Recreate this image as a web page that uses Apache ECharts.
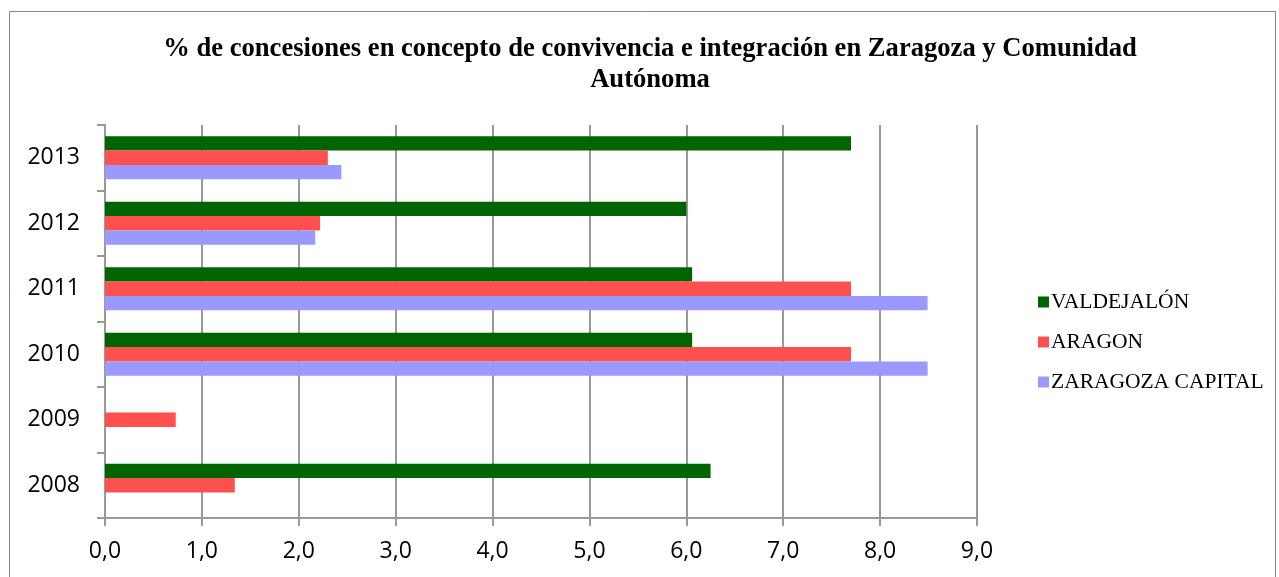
<!DOCTYPE html>
<html>
<head>
<meta charset="utf-8">
<script src="https://cdn.jsdelivr.net/npm/echarts@6/dist/echarts.min.js"></script>
<style>
  html, body { margin: 0; padding: 0; background: #fff; }
  #chart { width: 1279px; height: 577px; }
</style>
</head>
<body>
<div id="chart"></div>
<script>
const years = ['2008', '2009', '2010', '2011', '2012', '2013'];
const valdejalon = [6.25, 0, 6.06, 6.06, 6.0, 7.7];
const aragon = [1.34, 0.73, 7.7, 7.7, 2.22, 2.3];
const zaragozaCapital = [0, 0, 8.49, 8.49, 2.17, 2.44];
const xTicks = ['0,0', '1,0', '2,0', '3,0', '4,0', '5,0', '6,0', '7,0', '8,0', '9,0'];

const myChart = echarts.init(document.getElementById('chart'));
const option = {
  animation: false,
  color: ['#006400', '#ff5050', '#9999ff'],
  title: {
    text: '% de concesiones en concepto de convivencia e integración en Zaragoza y Comunidad\nAutónoma',
    left: 645,
    top: 29,
    textAlign: 'center',
    textStyle: {
      fontFamily: 'Liberation Serif',
      fontWeight: 'bold',
      fontSize: 26.6,
      lineHeight: 31,
      color: '#000'
    }
  },
  graphic: [{
    type: 'rect',
    shape: { x: 9.5, y: 11.5, width: 1266, height: 600 },
    style: { fill: 'none', stroke: '#888', lineWidth: 1 },
    silent: true
  }],
  legend: {
    orient: 'vertical',
    left: 1033,
    top: 286,
    itemGap: 18,
    itemWidth: 11,
    itemHeight: 11,
    icon: 'rect',
    data: ['VALDEJALÓN', 'ARAGON', 'ZARAGOZA CAPITAL'],
    textStyle: {
      fontFamily: 'Liberation Serif',
      fontSize: 21.5,
      lineHeight: 20,
      color: '#000',
      padding: [0, 0, 0, -3]
    }
  },
  grid: {
    left: 105,
    right: 302,
    top: 125,
    bottom: 59
  },
  xAxis: {
    type: 'value',
    min: 0,
    max: 9,
    interval: 1,
    axisLine: { show: true, lineStyle: { color: '#999', width: 2 } },
    axisTick: { show: true, length: 8, lineStyle: { color: '#999', width: 2 } },
    splitLine: { show: true, lineStyle: { color: '#999', width: 2 } },
    axisLabel: {
      margin: 22,
      fontFamily: 'Open Sans',
      fontSize: 23,
      color: '#000',
      formatter: v => xTicks[Math.round(v)]
    }
  },
  yAxis: {
    type: 'category',
    data: years,
    axisLine: { show: true, lineStyle: { color: '#999', width: 2 } },
    axisTick: { show: true, length: 8, lineStyle: { color: '#999', width: 2 } },
    axisLabel: {
      margin: 25,
      fontFamily: 'Open Sans',
      fontSize: 23,
      color: '#000'
    }
  },
  series: [
    {
      name: 'VALDEJALÓN',
      type: 'bar',
      barGap: '0%',
      barCategoryGap: '34%',
      data: valdejalon
    },
    {
      name: 'ARAGON',
      type: 'bar',
      barGap: '0%',
      barCategoryGap: '34%',
      data: aragon
    },
    {
      name: 'ZARAGOZA CAPITAL',
      type: 'bar',
      barGap: '0%',
      barCategoryGap: '34%',
      data: zaragozaCapital
    }
  ]
};
myChart.setOption(option);
</script>
</body>
</html>
